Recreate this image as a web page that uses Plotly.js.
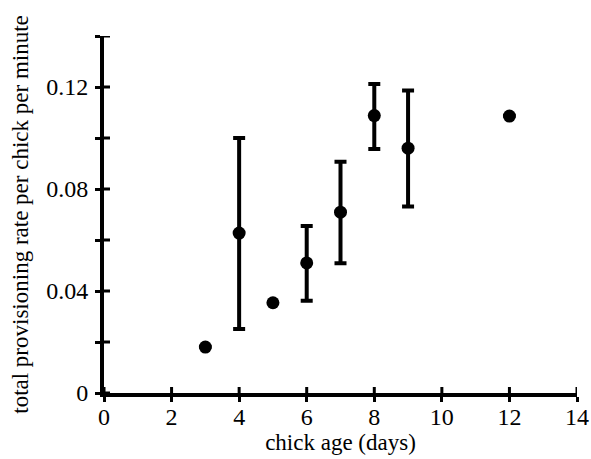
<!DOCTYPE html>
<html><head><meta charset="utf-8">
<script src="https://cdn.plot.ly/plotly-3.0.1.min.js"></script>
<style>html,body{margin:0;padding:0;background:#fff}</style>
</head><body>
<div id="chart" style="width:591px;height:459px"></div>
<script>
const ages = [3, 4, 5, 6, 7, 8, 9, 12];
const rates = [0.018, 0.0627, 0.0354, 0.051, 0.0709, 0.1088, 0.096, 0.1086];
const upper = [null, 0.100, null, 0.0655, 0.0907, 0.1212, 0.1186, null];
const lower = [null, 0.0251, null, 0.0362, 0.0509, 0.0957, 0.0731, null];
const xTickVals = [0, 2, 4, 6, 8, 10, 12, 14];
const yTickVals = [0, 0.02, 0.04, 0.06, 0.08, 0.10, 0.12, 0.14];
const yTickText = ['0', '', '0.04', '', '0.08', '', '0.12', ''];

const errPlus = rates.map((v, i) => upper[i] === null ? 0 : upper[i] - v);
const errMinus = rates.map((v, i) => lower[i] === null ? 0 : v - lower[i]);

const FAM = 'Liberation Serif, Times New Roman, serif';
const f = (s) => ({family: FAM, size: s, color: '#000'});

// inner halves of the crossing tick marks, placed through the axes
const tickShapes = [
  ...xTickVals.map(v => ({type: 'line', layer: 'above', xref: 'x', yref: 'y',
    x0: v, x1: v, ysizemode: 'pixel', yanchor: 0, y0: 0, y1: 6,
    line: {color: '#000', width: 3}})),
  ...yTickVals.map(v => ({type: 'line', layer: 'above', xref: 'x', yref: 'y',
    y0: v, y1: v, xsizemode: 'pixel', xanchor: 0, x0: 0, x1: 6,
    line: {color: '#000', width: 3}}))
];

const traces = [{
  x: ages, y: rates, type: 'scatter', mode: 'markers',
  marker: {color: '#000', size: 13, symbol: 'circle'},
  error_y: {type: 'data', symmetric: false,
    array: errPlus, arrayminus: errMinus,
    color: '#000', thickness: 4, width: 6, visible: true},
  cliponaxis: false, showlegend: false
}];

const layout = {
  width: 591, height: 459,
  margin: {l: 104, r: 14, t: 36, b: 66},
  paper_bgcolor: '#fff', plot_bgcolor: '#fff',
  font: f(23),
  shapes: tickShapes,
  xaxis: {range: [0, 14], tickmode: 'array', tickvals: xTickVals, showgrid: false, zeroline: false,
    showline: true, linewidth: 4, linecolor: '#000',
    ticks: 'outside', ticklen: 5, tickwidth: 3, tickcolor: '#000', ticklabelstandoff: -6,
    tickfont: f(24), title: {text: 'chick age (days)', font: f(23), standoff: 2}},
  yaxis: {range: [0, 0.14], showgrid: false, zeroline: false,
    showline: true, linewidth: 4, linecolor: '#000',
    ticks: 'outside', ticklen: 5, tickwidth: 3, tickcolor: '#000', ticklabelstandoff: 2,
    tickmode: 'array', tickvals: yTickVals, ticktext: yTickText,
    tickfont: f(24), title: {text: 'total provisioning rate per chick per minute', font: f(23), standoff: 12}}
};

Plotly.newPlot('chart', traces, layout, {displayModeBar: false, staticPlot: true});
</script>
</body></html>
